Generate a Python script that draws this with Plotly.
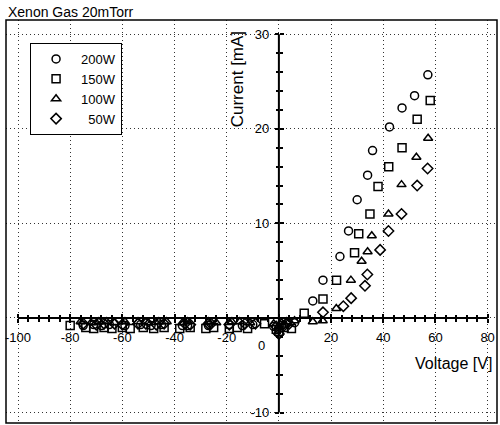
import plotly.graph_objects as go

# ---------------- data ----------------
series_names = ["200W", "150W", "100W", "\u200750W"]
symbols = ["circle-open", "square-open", "triangle-up-open", "diamond-open"]

v200 = [-75, -71, -68, -65, -59, -53, -49, -45, -37, -35, -27, -19, -14, -10,
        -2, 0, 1, 3, 6, 13.0, 16.9, 23.4, 26.7, 30.0, 34.0, 35.9, 42.4, 47.2, 52.0, 57.1]
i200 = [-0.8, -0.7, -0.8, -0.7, -0.8, -0.7, -0.8, -0.7, -0.8, -0.8, -0.8, -0.7, -0.8, -0.7,
        -0.9, -1.1, -0.8, -0.6, -0.5, 1.8, 4.0, 6.5, 9.2, 12.5, 15.1, 17.7, 20.2, 22.2, 23.5, 25.7]

v150 = [-80, -74, -71, -67, -64, -60, -57, -52, -48, -44, -38, -34, -28, -25, -19, -16, -12,
        -5.5, -1, 0, 2, 4.8, 9.7, 16.9, 22.1, 29.0, 30.6, 34.9, 38.0, 42.1, 47.2, 53.0, 58.0]
i150 = [-0.8, -1.0, -1.1, -1.0, -1.1, -1.0, -1.1, -1.0, -1.1, -1.0, -1.1, -1.0, -1.1, -1.0, -1.1, -1.0, -1.1,
        -0.6, -1.2, -1.4, -1.0, -1.1, 0.5, 2.0, 4.0, 6.9, 8.9, 11.0, 13.9, 16.0, 18.0, 21.0, 23.0]

v100 = [-76, -72, -69, -66, -63, -59, -54, -50, -46, -43, -37, -35, -27, -24, -18, -15, -11,
        -2, 0, 1, 3, 6, 13.0, 16.8, 22.0, 27.6, 31.7, 34.0, 35.6, 42.0, 47.0, 52.7, 57.2]
i100 = [-0.4, -0.5, -0.4, -0.4, -0.5, -0.4, -0.4, -0.5, -0.4, -0.4, -0.5, -0.4, -0.4, -0.5, -0.4, -0.4, -0.5,
        -0.6, -0.9, -0.5, -0.4, -0.3, -0.4, -0.3, 1.0, 4.0, 6.0, 7.0, 8.7, 11.0, 14.1, 17.0, 19.0]

v50 = [-75, -70, -67, -63, -60, -54, -51, -47, -44, -36, -34, -27, -26, -19, -13, -9,
       -1, 0, 2, 4, 16.9, 24.7, 27.7, 33.0, 33.9, 38.8, 42.0, 47.0, 53.0, 57.0]
i50 = [-0.6, -0.7, -0.6, -0.6, -0.7, -0.6, -0.6, -0.7, -0.6, -0.6, -0.7, -0.6, -0.6, -0.7, -0.6, -0.6,
       -0.9, -1.7, -0.8, -0.6, 0.6, 1.25, 2.1, 3.4, 4.6, 7.2, 9.2, 11.0, 14.0, 15.8]

xs = [v200, v150, v100, v50]
ys = [i200, i150, i100, i50]

x_ticks = [-100, -80, -60, -40, -20, 20, 40, 60, 80]
y_ticks = [-10, 10, 20, 30]
x_grid = [-100, -80, -60, -40, -20, 0, 20, 40, 60, 80]
y_grid = [-10, 0, 10, 20, 30]
x_range = [-104.6, 83.6]
y_range = [-11.1, 31.5]

FONT = "Arial, Liberation Sans, sans-serif"

fig = go.Figure()
for name, sym, x, y in zip(series_names, symbols, xs, ys):
    fig.add_trace(go.Scatter(
        x=x, y=y, mode="markers", name=name,
        marker=dict(symbol=sym, size=8, color="black", line=dict(width=1.5, color="black")),
    ))
# empty trace to carry the overlay axes (inside half of crossing ticks)
fig.add_trace(go.Scatter(x=[], y=[], xaxis="x2", yaxis="y2", showlegend=False,
                         hoverinfo="skip"))

px0 = (0 - x_range[0]) / (x_range[1] - x_range[0])
py0 = (0 - y_range[0]) / (y_range[1] - y_range[0])

common = dict(showline=False, zeroline=False)
fig.update_layout(
    width=500, height=425,
    margin=dict(l=6, r=3, t=20, b=2),
    paper_bgcolor="white", plot_bgcolor="white",
    font=dict(family=FONT, size=13, color="black"),
    showlegend=True,
    legend=dict(x=0.049, y=0.943, xanchor="left", yanchor="top",
                bordercolor="black", borderwidth=1, bgcolor="white",
                font=dict(size=13), itemwidth=40),
    title=dict(text="Xenon Gas 20mTorr", x=0.016, xanchor="left",
               y=1 - 12 / 425, yanchor="middle", font=dict(size=14)),
    xaxis=dict(range=x_range, anchor="free", position=py0,
               tickmode="array", tickvals=x_ticks, ticktext=[str(v) for v in x_ticks],
               ticks="outside", ticklen=4, tickwidth=1.5, tickcolor="black",
               ticklabelstandoff=3,
               minor=dict(tickmode="array", tickvals=list(range(-100, 81, 4)),
                          ticks="outside", ticklen=3, tickcolor="black"),
               showgrid=False, tickfont=dict(size=13), **common),
    yaxis=dict(range=y_range, anchor="free", position=px0,
               tickmode="array", tickvals=y_ticks, ticktext=[str(v) for v in y_ticks],
               ticks="outside", ticklen=4, tickwidth=1.5, tickcolor="black",
               ticklabelstandoff=3,
               minor=dict(tickmode="array", tickvals=list(range(-10, 31, 2)),
                          ticks="outside", ticklen=3, tickcolor="black"),
               showgrid=False, tickfont=dict(size=13), **common),
    xaxis2=dict(range=x_range, overlaying="x", anchor="free", position=py0,
                tickmode="array", tickvals=x_grid, showticklabels=False,
                ticks="inside", ticklen=4, tickwidth=1.5, tickcolor="black",
                minor=dict(tickmode="array", tickvals=list(range(-100, 81, 4)),
                           ticks="inside", ticklen=3, tickcolor="black"),
                showgrid=True, gridcolor="#333", griddash="1px,3px", gridwidth=1,
                **common),
    yaxis2=dict(range=y_range, overlaying="y", anchor="free", position=px0,
                tickmode="array", tickvals=y_grid, showticklabels=False,
                ticks="inside", ticklen=4, tickwidth=1.5, tickcolor="black",
                minor=dict(tickmode="array", tickvals=list(range(-10, 31, 2)),
                           ticks="inside", ticklen=3, tickcolor="black"),
                showgrid=True, gridcolor="#333", griddash="1px,3px", gridwidth=1,
                **common),
)

# axis lines through the origin, spanning the tick range
fig.add_shape(type="line", x0=min(x_grid), x1=max(x_grid), y0=0, y1=0,
              line=dict(color="black", width=2), layer="above")
fig.add_shape(type="line", x0=0, x1=0, y0=min(y_grid), y1=max(y_grid),
              line=dict(color="black", width=2), layer="above")
# frame around plot area
fig.add_shape(type="rect", xref="paper", yref="paper", x0=0, x1=1, y0=0, y1=1,
              line=dict(color="black", width=1.5))

fig.add_annotation(text="Current [mA]", x=-15.8, y=25.2, textangle=-90,
                   showarrow=False, font=dict(size=17))
fig.add_annotation(text="Voltage [V]", x=66.9, y=-4.76,
                   showarrow=False, font=dict(size=16))
fig.add_annotation(text="0", x=-6.6, y=-2.9, showarrow=False, font=dict(size=13))

fig.write_html("out.html", config={"displayModeBar": False},
               post_script="document.body.style.margin='0';document.body.style.padding='0';")
